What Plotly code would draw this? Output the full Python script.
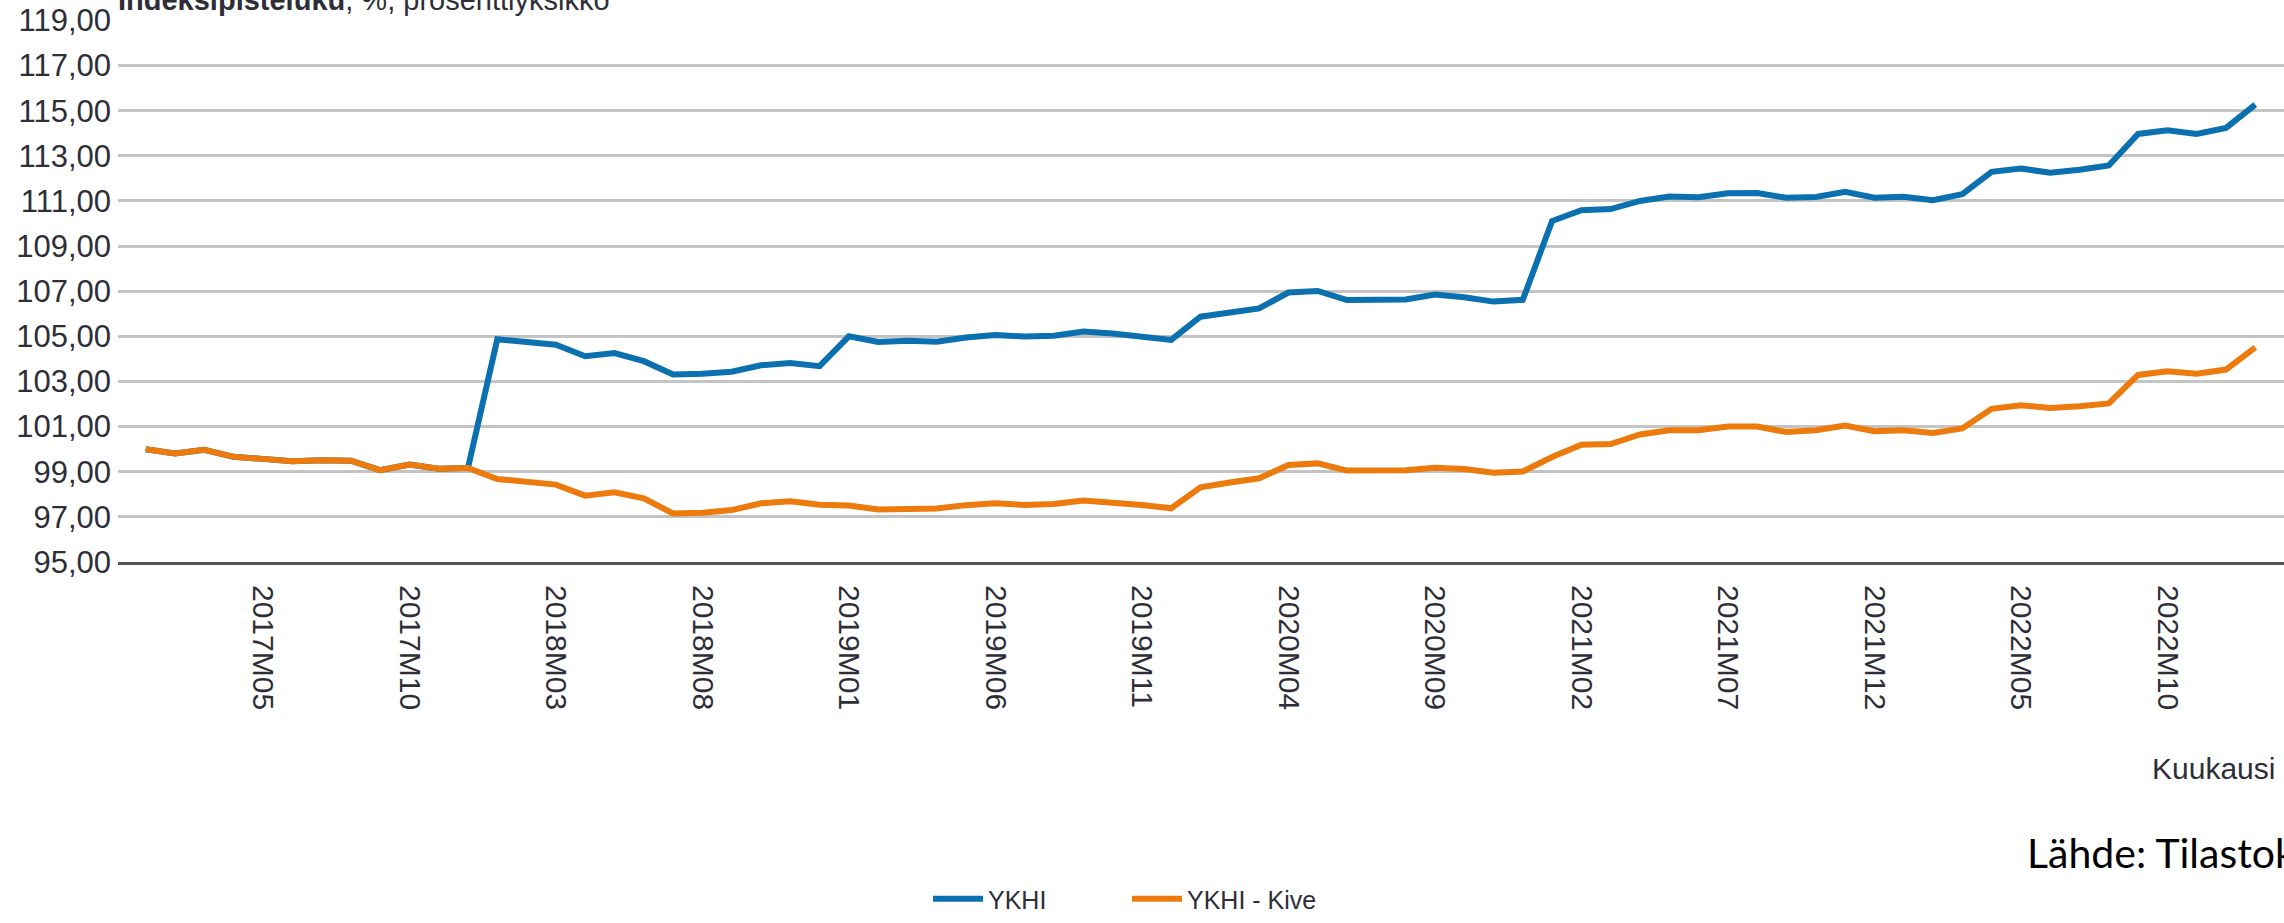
import plotly.graph_objects as go

# ---- data -------------------------------------------------------------
months = [f"{y}M{m:02d}" for y in range(2017, 2024) for m in range(1, 13)][:73]

ykhi = [
    100.00, 99.81, 99.97, 99.66, 99.57, 99.46, 99.51, 99.49, 99.07, 99.32,
    99.13, 99.17, 104.87, 104.78, 104.63, 104.12, 104.26, 103.90, 103.31, 103.34,
    103.43, 103.72, 103.82, 103.68, 105.00, 104.75, 104.80, 104.76, 104.95, 105.06,
    104.99, 105.03, 105.21, 105.13, 104.99, 104.84, 105.87, 106.05, 106.24, 106.94,
    107.01, 106.61, 106.65, 106.63, 106.85, 106.73, 106.54, 106.62, 110.11, 110.59,
    110.64, 111.00, 111.20, 111.17, 111.34, 111.35, 111.14, 111.18, 111.41, 111.14,
    111.19, 111.03, 111.30, 112.29, 112.44, 112.25, 112.38, 112.57, 113.97, 114.13,
    113.97, 114.24, 115.27,
]

ykhi_kive = [
    100.00, 99.81, 99.97, 99.66, 99.57, 99.46, 99.51, 99.49, 99.07, 99.32,
    99.13, 99.17, 98.68, 98.55, 98.43, 97.94, 98.09, 97.82, 97.15, 97.18,
    97.30, 97.60, 97.69, 97.54, 97.50, 97.33, 97.37, 97.37, 97.52, 97.60,
    97.53, 97.57, 97.72, 97.64, 97.53, 97.38, 98.31, 98.52, 98.71, 99.30,
    99.37, 99.05, 99.08, 99.07, 99.18, 99.12, 98.96, 99.01, 99.65, 100.20,
    100.23, 100.65, 100.84, 100.84, 101.00, 101.00, 100.76, 100.84, 101.05, 100.80,
    100.84, 100.72, 100.92, 101.79, 101.95, 101.82, 101.90, 102.03, 103.29, 103.45,
    103.34, 103.53, 104.51,
]

x_ticks = ["2017M05", "2017M10", "2018M03", "2018M08", "2019M01", "2019M06",
           "2019M11", "2020M04", "2020M09", "2021M02", "2021M07", "2021M12",
           "2022M05", "2022M10"]
y_ticks = [95, 97, 99, 101, 103, 105, 107, 109, 111, 113, 115, 117, 119]

BLUE = "#0b70b0"
ORANGE = "#ec7a0c"
TXT = "#2e2e38"
FONT = "Liberation Sans, Arial, sans-serif"

fig = go.Figure()
fig.add_trace(go.Scatter(x=months, y=ykhi, mode="lines", name="YKHI",
                         line=dict(color=BLUE, width=6)))
fig.add_trace(go.Scatter(x=months, y=ykhi_kive, mode="lines", name="YKHI - Kive",
                         line=dict(color=ORANGE, width=6)))

W, H = 2284, 923
L, R, T, B = 118, 0, 20, 361
pw, ph = W - L - R, H - T - B

def px_x(x):
    return (x - L) / pw

def px_y(y):
    return (H - B - y) / ph

fig.update_layout(
    width=W, height=H,
    margin=dict(l=L, r=R, t=T, b=B, pad=0),
    paper_bgcolor="white", plot_bgcolor="white",
    separators=", ",
    font=dict(family=FONT, color=TXT, size=31),
    showlegend=True,
    legend=dict(orientation="h", x=px_x(1127), xanchor="center",
                y=px_y(922), yanchor="bottom",
                font=dict(size=25, color=TXT), itemwidth=50,
                entrywidth=134, entrywidthmode="pixels",
                traceorder="normal"),
    xaxis=dict(
        type="category", categoryorder="array", categoryarray=months,
        range=[-0.945, 72.98],
        tickmode="array", tickvals=x_ticks, ticktext=x_ticks,
        tickangle=90, ticks="", showgrid=False, zeroline=False,
        showline=True, linecolor="#555555", linewidth=3,
        ticklabelstandoff=14,
        tickfont=dict(size=30, color=TXT),
    ),
    yaxis=dict(
        range=[95, 119.02], tickmode="array", tickvals=y_ticks,
        tickformat=".2f", ticks="", showgrid=True, gridcolor="#c4c4c4",
        gridwidth=2.5, zeroline=False, showline=False,
        ticklabelstandoff=6,
        tickfont=dict(size=31, color=TXT),
    ),
    annotations=[
        dict(text="Kuukausi", xref="paper", yref="paper",
             x=px_x(2277), y=px_y(768), xanchor="right", yanchor="middle",
             showarrow=False, font=dict(size=30, color=TXT)),
        dict(text="Lähde: Tilastokeskus", xref="paper", yref="paper",
             x=px_x(2025), y=px_y(852), xanchor="left", yanchor="middle",
             showarrow=False, font=dict(size=41, color="black", family="Lato")),
        dict(text="<b>Indeksipisteluku</b>, %, prosenttiyksikkö", xref="paper",
             yref="paper", x=px_x(612), y=px_y(0), xanchor="right",
             yanchor="middle", showarrow=False,
             font=dict(size=29, color=TXT)),
    ],
)

fig.write_html("out.html", config={"displayModeBar": False},
               post_script="document.body.style.margin='0';")
